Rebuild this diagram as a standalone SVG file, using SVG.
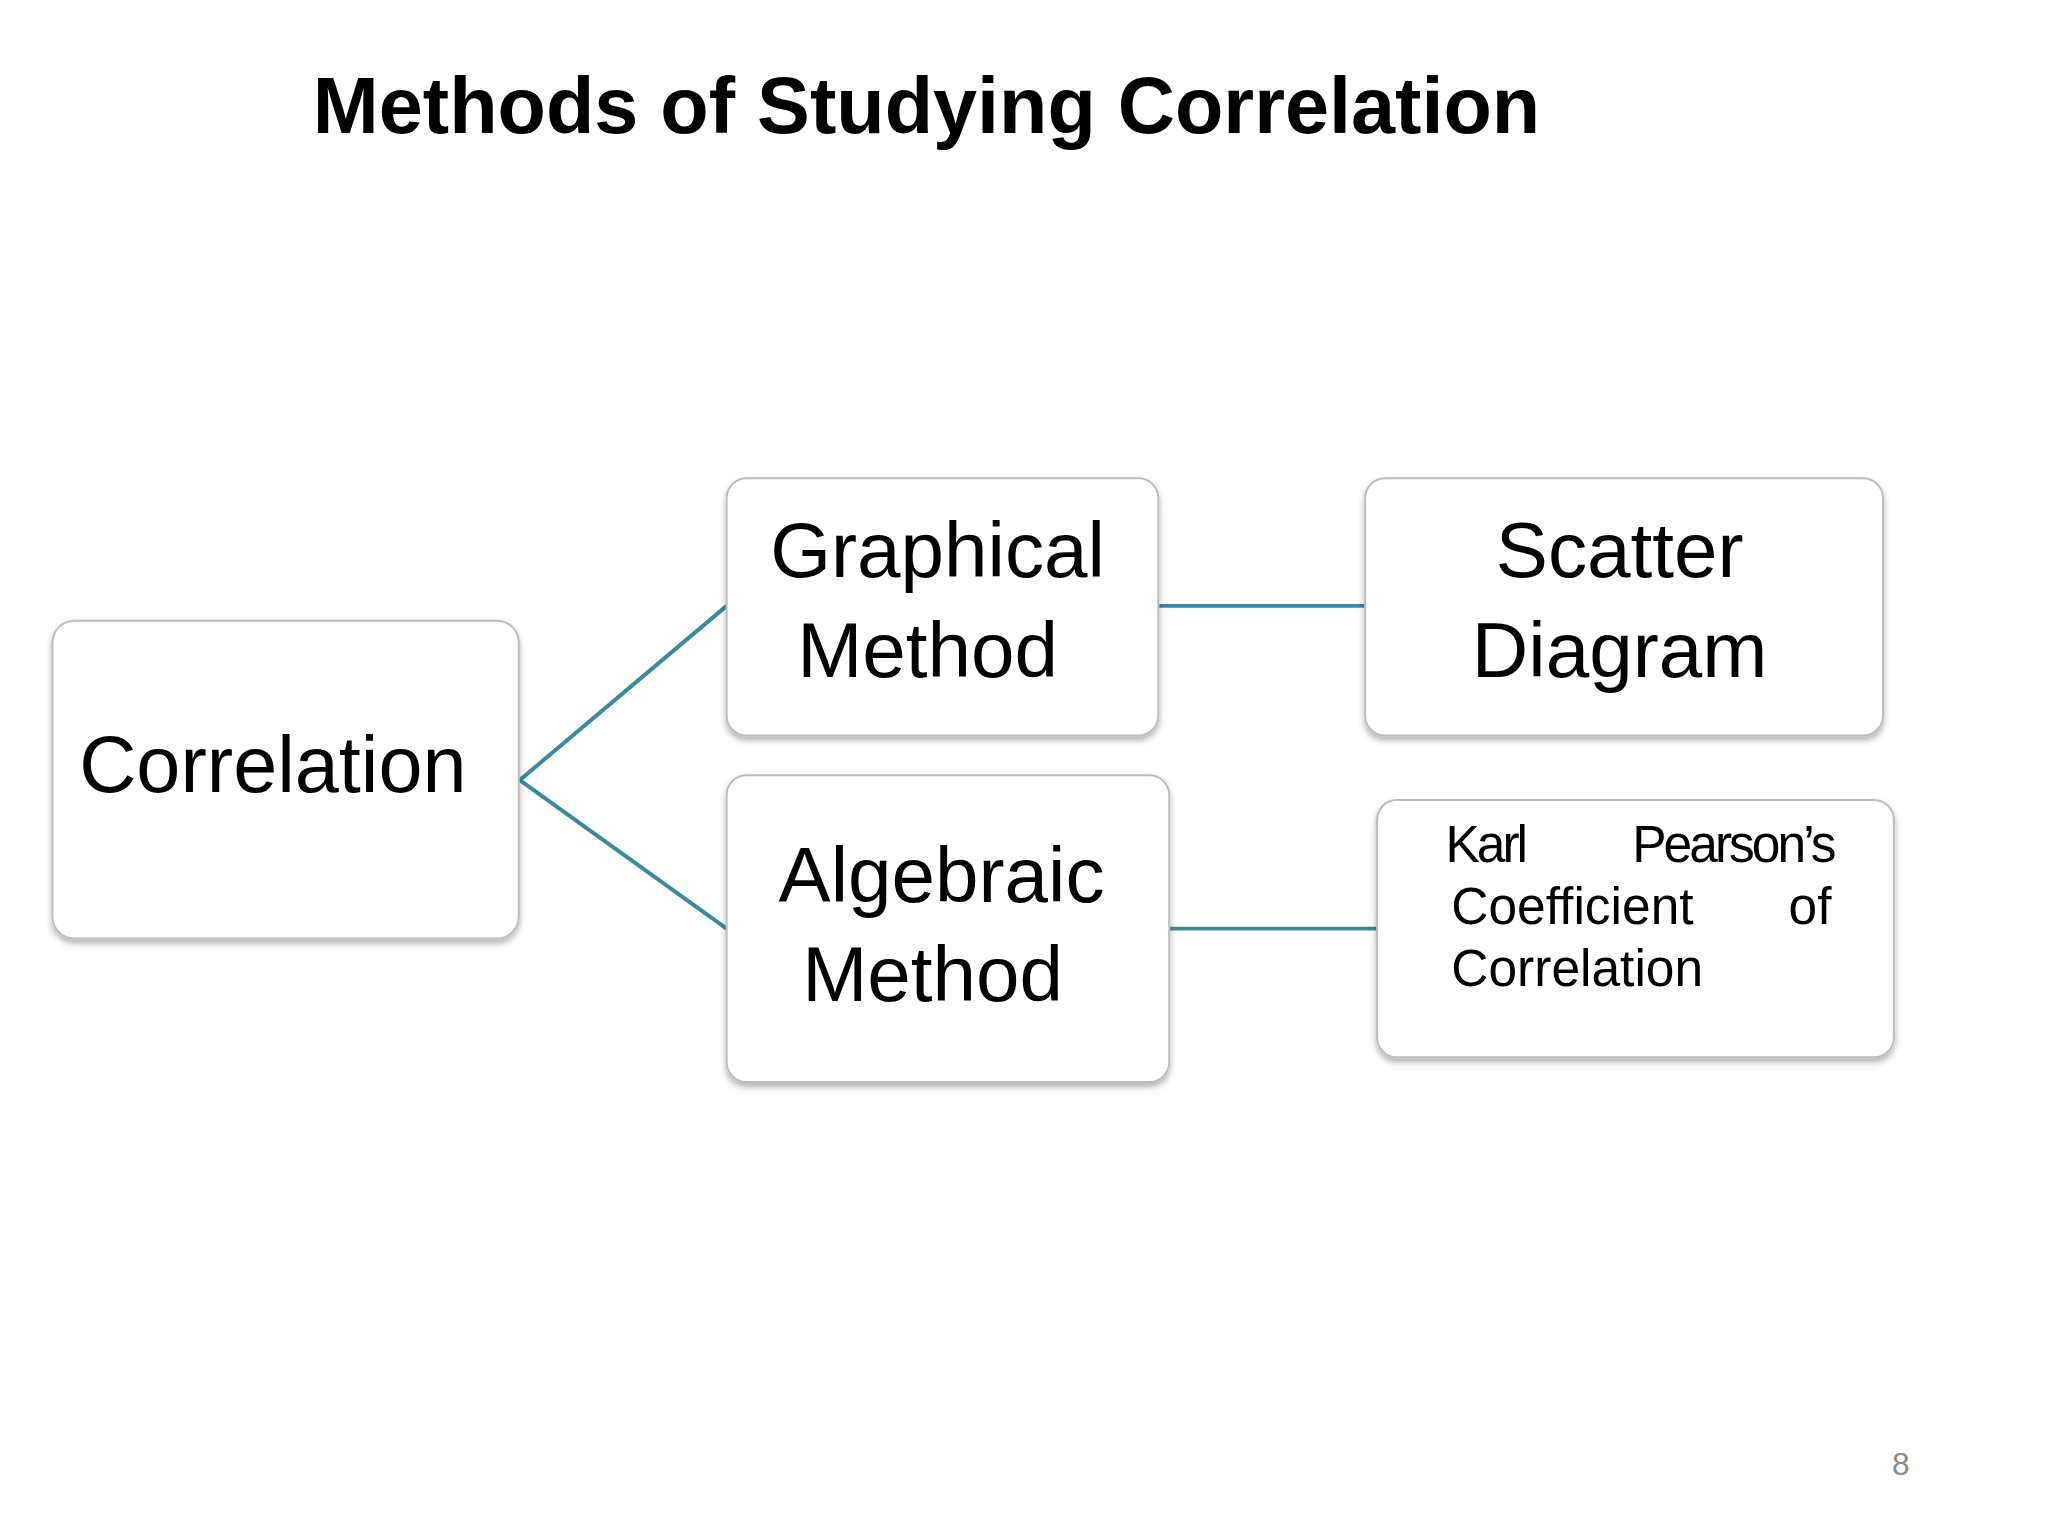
<svg xmlns="http://www.w3.org/2000/svg" width="2048" height="1536" viewBox="0 0 2048 1536">
<style>
.box{fill:#fff;stroke:#bdbdbd;stroke-width:2;filter:url(#sh)}
.t{font-family:"Liberation Sans",Arial,sans-serif;fill:#000}
.big{font-size:79px;text-anchor:middle}
.sm{font-size:52px}
.ln{stroke:#3a8aa0;stroke-width:4;fill:none}
</style>
<defs><filter id="sh" x="-10%" y="-10%" width="120%" height="130%"><feDropShadow dx="0" dy="4" stdDeviation="3" flood-color="#000" flood-opacity="0.3"/></filter></defs>
<rect width="2048" height="1536" fill="#fff"/>
<g transform="scale(0.99)">
<text class="t" x="316" y="134" font-size="80" font-weight="bold">Methods of Studying Correlation</text>
<g id="connectors">
<polyline class="ln" points="734,612 525,788 734,938"/>
<line class="ln" x1="1170" y1="612" x2="1379" y2="612"/>
<line class="ln" x1="1181" y1="938" x2="1391" y2="938"/>
</g>
<g id="correlation"><rect class="box" x="53" y="627" width="471" height="321" rx="22"/><text class="t" x="80" y="800" font-size="80">Correlation</text></g>
<g id="graphical"><rect class="box" x="734" y="483" width="436" height="260" rx="20"/><text class="t big" x="947" y="583">Graphical</text><text class="t big" x="937" y="684">Method</text></g>
<g id="algebraic"><rect class="box" x="734" y="783" width="447" height="310" rx="20"/><text class="t big" x="951" y="911">Algebraic</text><text class="t big" x="942" y="1011">Method</text></g>
<g id="scatter"><rect class="box" x="1379" y="483" width="523" height="260" rx="20"/><text class="t big" x="1636" y="583">Scatter</text><text class="t big" x="1636" y="684">Diagram</text></g>
<g id="karl"><rect class="box" x="1391" y="808" width="522" height="260" rx="20"/>
<text class="t sm" x="1460" y="871" letter-spacing="-3">Karl</text><text class="t sm" x="1852" y="871" text-anchor="end" letter-spacing="-3">Pearson’s</text>
<text class="t sm" x="1466" y="933">Coefficient</text><text class="t sm" x="1850" y="933" text-anchor="end">of</text>
<text class="t sm" x="1466" y="996">Correlation</text></g>
<text x="1920" y="1490" font-family="Liberation Sans,Arial,sans-serif" font-size="32" fill="#8a8a8a" text-anchor="middle">8</text>
</g>
</svg>
